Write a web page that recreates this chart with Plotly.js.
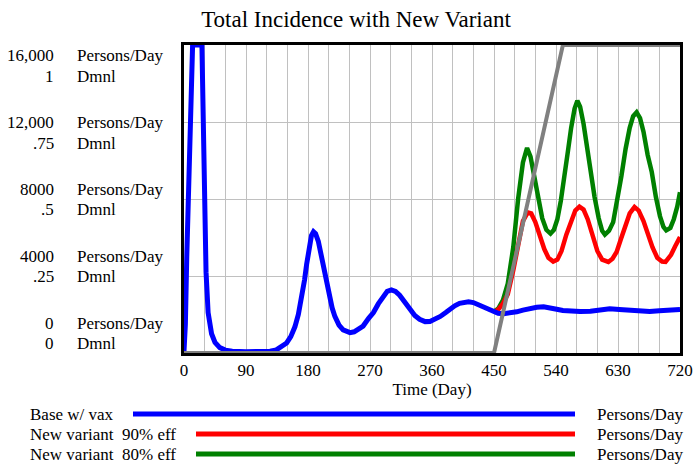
<!DOCTYPE html>
<html>
<head>
<meta charset="utf-8">
<script src="https://cdn.plot.ly/plotly-3.0.1.min.js"></script>
<style>
html,body{margin:0;padding:0;background:#fff;}
#chart{width:694px;height:465px;}
</style>
</head>
<body>
<div id="chart"></div>
<script>
// ---- data ----
const tBase = [0,2,4,6,8,10,12.5,26,28,30,32,35,40,45,52,60,70,90,110,125,134,141,149,155,161,166,171,175,178,182,185,188,191,195,199,202,206,210,215,219,225,231,236,241,247,254,260,268,275,282,289,295,301,307,313,320,328,335,342,350,357,365,372,380,386,393,400,407,413,420,430,440,449,456,464,473,483,492,502,512,522,531,541,550,560,575,590,605,618,632,647,662,676,690,705,720];
const base = [80,1500,5000,8000,11000,13500,16000,16000,12500,7500,4200,2100,1000,550,280,150,90,70,70,90,160,300,520,850,1360,2000,2900,3800,4600,5500,6100,6300,6200,5800,5100,4600,3700,3000,2350,1900,1450,1200,1100,1060,1100,1250,1400,1800,2100,2550,2950,3200,3280,3200,3000,2650,2250,1950,1750,1630,1640,1760,1900,2100,2300,2450,2580,2650,2660,2620,2450,2280,2130,2060,2040,2070,2140,2230,2310,2380,2400,2360,2270,2210,2170,2150,2170,2250,2300,2260,2220,2170,2150,2200,2260,2260];

const tV90 = [449,456,463,470,478,485,492,499,504,510,517,523,529,536,542,548,555,562,568,574,580,586,593,600,607,616,622,628,634,640,647,654,660,667,673,680,687,694,699,707,713,720];
const v90 = [2130,2250,2570,3050,4300,5680,6850,7300,7250,6800,6000,5400,4950,4750,4850,5300,6150,6900,7400,7600,7450,6950,6100,5300,4850,4730,4900,5250,5900,6600,7250,7580,7400,6850,6200,5500,4950,4750,4730,5100,5550,6020];

const tV80 = [449,456,463,470,478,485,492,498,503,508,514,520,526,532,537,542,547,552,557,562,567,571,575,580,585,590,596,602,607,611,617,623,629,635,641,647,652,657,662,667,673,679,685,691,696,700,706,711,716,720];
const v80 = [2130,2300,2750,3600,5500,8000,9900,10650,10200,9300,8000,7000,6400,6200,6400,6950,7900,9000,10400,11700,12700,13100,12800,11900,10600,9400,8100,7000,6350,6150,6350,6800,7900,9200,10600,11700,12300,12500,12200,11500,10300,9400,8100,7100,6550,6370,6500,6950,7600,8350];

const tDmnl = [0,450,550,720];
const dmnl = [0,0,1,1];

const xTickVals = [0,90,180,270,360,450,540,630,720];
const xTickText = ["0","90","180","270","360","450","540","630","720"];
const yTickVals = [0,4000,8000,12000,16000];
const leftNums = ["16,000","12,000","8000","4000","0"];
const leftDmnl = ["1",".75",".5",".25","0"];
const seriesNames = ["Base w/ vax","New variant  90% eff","New variant  80% eff"];
const seriesUnits = ["Persons/Day","Persons/Day","Persons/Day"];
const seriesColors = ["#0000ff","#ff0000","#008000"];

// ---- layout helpers (pixel -> paper) ----
const W = 694, H = 465;
const L = 184, R = 14, T = 45, B = 112;
const PW = W - L - R, PH = H - T - B;
const px = x => (x - L) / PW;
const py = y => (H - B - y) / PH;
const FONT = "Liberation Serif";

const traces = [
  {x: tV80, y: v80, type: 'scatter', mode: 'lines', line: {color: seriesColors[2], width: 4.5}, hoverinfo: 'skip'},
  {x: tV90, y: v90, type: 'scatter', mode: 'lines', line: {color: seriesColors[1], width: 4.5}, hoverinfo: 'skip'},
  {x: tDmnl, y: dmnl, type: 'scatter', mode: 'lines', yaxis: 'y2', line: {color: '#808080', width: 4}, hoverinfo: 'skip'},
  {x: tBase, y: base, type: 'scatter', mode: 'lines', line: {color: seriesColors[0], width: 5}, hoverinfo: 'skip'}
];

const annotations = [];
const numY = [56, 122, 189, 256, 323];
const dmY = [76, 143, 209, 276, 343];
for (let i = 0; i < leftNums.length; i++) {
  annotations.push({xref:'paper', yref:'paper', x: px(56), y: py(numY[i]), xanchor:'right', yanchor:'middle', text: leftNums[i], showarrow:false, font:{family:FONT, size:17, color:'#000'}});
  annotations.push({xref:'paper', yref:'paper', x: px(75), y: py(numY[i]), xanchor:'left', yanchor:'middle', text: 'Persons/Day', showarrow:false, font:{family:FONT, size:17, color:'#000'}});
  annotations.push({xref:'paper', yref:'paper', x: px(56), y: py(dmY[i]), xanchor:'right', yanchor:'middle', text: leftDmnl[i], showarrow:false, font:{family:FONT, size:17, color:'#000'}});
  annotations.push({xref:'paper', yref:'paper', x: px(75), y: py(dmY[i]), xanchor:'left', yanchor:'middle', text: 'Dmnl', showarrow:false, font:{family:FONT, size:17, color:'#000'}});
}
const legY = [414, 434, 454];
const legStart = [133, 196, 196];
const shapes = [];
for (let i = 0; i < seriesNames.length; i++) {
  annotations.push({xref:'paper', yref:'paper', x: px(28), y: py(legY[i]), xanchor:'left', yanchor:'middle', text: seriesNames[i].replace(/  /g, '&nbsp; '), showarrow:false, font:{family:FONT, size:17, color:'#000'}});
  annotations.push({xref:'paper', yref:'paper', x: px(595), y: py(legY[i]), xanchor:'left', yanchor:'middle', text: seriesUnits[i], showarrow:false, font:{family:FONT, size:17, color:'#000'}});
  shapes.push({type:'line', xref:'paper', yref:'paper', x0: px(legStart[i]), x1: px(575), y0: py(legY[i]), y1: py(legY[i]), line:{color: seriesColors[i], width:5}});
}

const layout = {
  width: W, height: H,
  margin: {l: L, r: R, t: T, b: B, pad: 0},
  paper_bgcolor: '#fff', plot_bgcolor: '#fff',
  showlegend: false,
  font: {family: FONT, size: 17, color: '#000'},
  title: {text: 'Total Incidence with New Variant', font: {family: FONT, size: 23, color: '#000'},
          xref: 'container', yref: 'container', x: 356/W, y: 1 - 19/H, xanchor: 'center', yanchor: 'middle'},
  xaxis: {
    range: [0, 720], tickmode: 'array', tickvals: xTickVals, ticktext: xTickText,
    showgrid: true, gridcolor: '#c0c0c0', gridwidth: 1,
    minor: {tickmode: 'linear', tick0: 0, dtick: 30, showgrid: true, gridcolor: '#c0c0c0', gridwidth: 1},
    showline: true, linecolor: '#000', linewidth: 3, mirror: true,
    ticks: '', zeroline: false, layer: 'below traces',
    tickfont: {family: FONT, size: 17, color: '#000'},
    title: {text: 'Time (Day)', font: {family: FONT, size: 17, color: '#000'}, standoff: 2}
  },
  yaxis: {
    range: [0, 16000], tickmode: 'array', tickvals: yTickVals, showticklabels: false,
    showgrid: true, gridcolor: '#c0c0c0', gridwidth: 1,
    showline: true, linecolor: '#000', linewidth: 3, mirror: true,
    ticks: '', zeroline: false, layer: 'below traces'
  },
  yaxis2: {range: [0, 1], overlaying: 'y', side: 'right', visible: false, showgrid: false, zeroline: false},
  annotations: annotations,
  shapes: shapes
};

Plotly.newPlot('chart', traces, layout, {staticPlot: true, displayModeBar: false});
</script>
</body>
</html>
